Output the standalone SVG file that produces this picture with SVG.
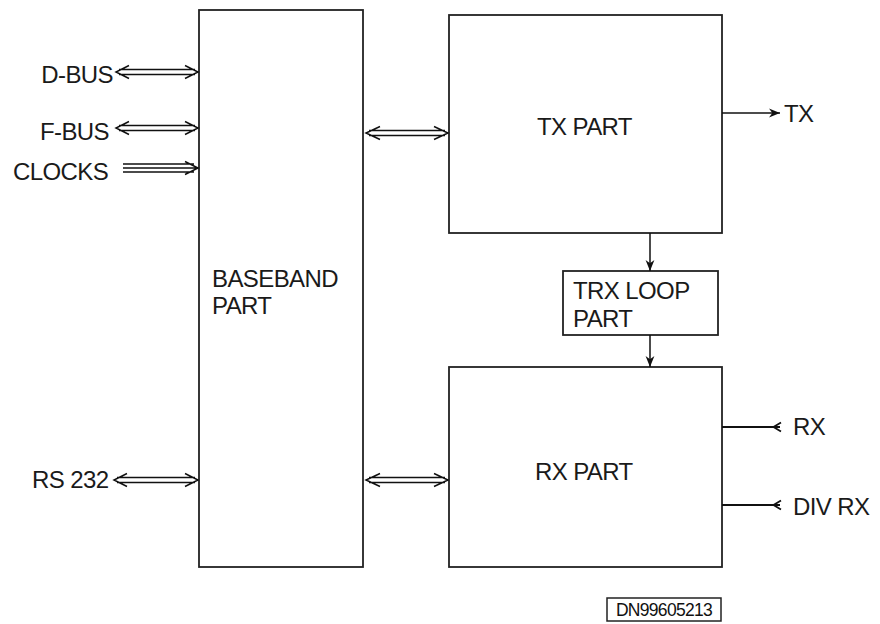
<svg xmlns="http://www.w3.org/2000/svg" width="880" height="624" viewBox="0 0 880 624">
<style>
.box{fill:#fff;stroke:#222;stroke-width:1.8}
.ln{fill:none;stroke:#111;stroke-width:1.5}
.t{font-family:"Liberation Sans",Arial,sans-serif;font-size:24px;fill:#1a1a1a;letter-spacing:-0.6px}
.s{font-family:"Liberation Sans",Arial,sans-serif;font-size:17.5px;fill:#111;letter-spacing:-0.7px}
</style>
<defs>
<marker id="ah" viewBox="0 0 10 10" refX="10" refY="5" markerWidth="11" markerHeight="11" markerUnits="userSpaceOnUse" orient="auto">
<path d="M0,1 L10,5 L0,9 L3,5 Z" fill="#111"/>
</marker>
</defs>
<rect width="880" height="624" fill="#fff"/>

<g id="baseband">
<rect class="box" x="199" y="10" width="164" height="557"/>
<text class="t" x="212" y="287">BASEBAND</text>
<text class="t" x="212" y="314">PART</text>
</g>
<g id="tx-part">
<rect class="box" x="449" y="15" width="273" height="218"/>
<text class="t" x="537" y="135">TX PART</text>
</g>
<g id="trx-loop">
<rect class="box" x="563" y="271" width="155" height="64"/>
<text class="t" x="573" y="299">TRX LOOP</text>
<text class="t" x="573" y="327">PART</text>
</g>
<g id="rx-part">
<rect class="box" x="449" y="367" width="273" height="200"/>
<text class="t" x="535" y="480">RX PART</text>
</g>
<g id="labels">
<text class="t" x="113" y="83" text-anchor="end">D-BUS</text>
<text class="t" x="109" y="140" text-anchor="end">F-BUS</text>
<text class="t" x="13" y="180">CLOCKS</text>
<text class="t" x="32" y="488">RS 232</text>
<text class="t" x="784" y="122">TX</text>
<text class="t" x="793" y="435">RX</text>
<text class="t" x="793" y="515">DIV RX</text>
</g>
<g id="docid">
<rect x="607" y="598" width="114" height="23" fill="#fff" stroke="#222" stroke-width="1.5"/>
<text class="s" x="664" y="615.5" text-anchor="middle">DN99605213</text>
</g>

<g id="connectors" class="ln">
<path d="M129,65.5 L116,72 L129,78.5 M185,65.5 L198,72 L185,78.5 M119,69.5 H195 M119,74.5 H195"/>
<path d="M129,121.5 L116,128 L129,134.5 M185,121.5 L198,128 L185,134.5 M119,125.5 H195 M119,130.5 H195"/>
<path d="M185,161.5 L198,168 L185,174.5 M123,164 H194 M123,168 H198 M123,172 H194"/>
<path d="M127,473.5 L114,480 L127,486.5 M185,473.5 L198,480 L185,486.5 M117,477.5 H195 M117,482.5 H195"/>
<path d="M380,126.5 L366,133 L380,139.5 M434,126.5 L448,133 L434,139.5 M369,130.5 H445 M369,135.5 H445"/>
<path d="M380,473.5 L366,480 L380,486.5 M434,473.5 L448,480 L434,486.5 M369,477.5 H445 M369,482.5 H445"/>
<line x1="722" y1="113" x2="780" y2="113" marker-end="url(#ah)"/>
<line x1="650" y1="233" x2="650" y2="271" marker-end="url(#ah)"/>
<line x1="650" y1="335" x2="650" y2="367" marker-end="url(#ah)"/>
<path d="M722,427 H780 M781,422.5 L773.5,427 L781,431.5" stroke-width="1.8"/>
<path d="M722,505 H780 M781,500.5 L773.5,505 L781,509.5" stroke-width="1.8"/>
</g>
</svg>
